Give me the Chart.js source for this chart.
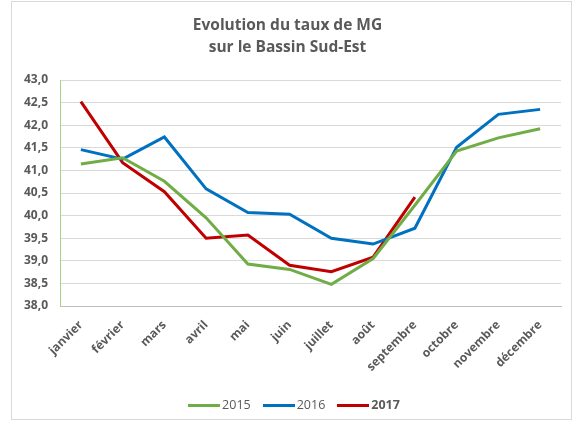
<!DOCTYPE html>
<html><head><meta charset="utf-8">
<script src="https://cdn.jsdelivr.net/npm/chart.js@4/dist/chart.umd.min.js"></script>
<style>
html,body{margin:0;padding:0;background:#fff;}
#wrap{position:relative;width:575px;height:423px;overflow:hidden;}
#frame{position:absolute;left:11px;top:1px;width:561px;height:419px;border:1px solid #d9d9d9;box-sizing:border-box;}
#title{position:absolute;left:0;top:13px;width:575px;text-align:center;font-family:"Open Sans",sans-serif;font-weight:bold;font-size:15.5px;line-height:22px;color:#595959;}
canvas{position:absolute;left:0;top:0;}
#legend{position:absolute;left:0;top:396px;width:588px;text-align:center;font-family:"Open Sans",sans-serif;font-size:12.5px;color:#595959;white-space:nowrap;}
.li{display:inline-block;margin:0 6px;}
.sw{display:inline-block;width:32px;height:3px;vertical-align:middle;margin-right:2px;}
</style></head>
<body><div id="wrap"><div id="frame"></div>
<canvas id="c" width="575" height="423"></canvas>
<div id="title">Evolution du taux de MG<br>sur le Bassin Sud-Est</div>
<div id="legend"></div>
</div>
<script>
const months = ["janvier","février","mars","avril","mai","juin","juillet","août","septembre","octobre","novembre","décembre"];
const y2015 = [41.14,41.28,40.76,39.95,38.93,38.81,38.48,39.05,40.23,41.43,41.72,41.92];
const y2016 = [41.46,41.25,41.74,40.59,40.07,40.03,39.50,39.37,39.72,41.51,42.24,42.35];
const y2017 = [42.52,41.17,40.53,39.50,39.57,38.90,38.76,39.08,40.41,null,null,null];
const seriesNames = ["2015","2016","2017"];
const colors = ["#70ad47","#0070c0","#c00000"];

const legend = document.getElementById('legend');
seriesNames.forEach((n,i)=>{
  const s=document.createElement('span');s.className='li';
  s.innerHTML='<span class="sw" style="background:'+colors[i]+'"></span><span style="'+(i===2?'font-weight:bold;':'')+'">'+n+'</span>';
  legend.appendChild(s);
});

const mk=(label,data,c)=>({label,data,borderColor:c,backgroundColor:c,borderWidth:3,pointRadius:0,tension:0,spanGaps:false});
new Chart(document.getElementById('c'),{
  type:'line',
  data:{labels:months,datasets:[mk(seriesNames[0],y2015,colors[0]),mk(seriesNames[1],y2016,colors[1]),mk(seriesNames[2],y2017,colors[2])]},
  options:{
    responsive:false,animation:false,
    layout:{padding:{left:0,right:14,top:80,bottom:0}},
    plugins:{legend:{display:false},title:{display:false},tooltip:{enabled:false}},
    scales:{
      x:{offset:true,grid:{display:false,drawTicks:false},border:{color:'#bfbfbf',width:1},
         ticks:{minRotation:45,maxRotation:45,padding:12,color:'#595959',font:{family:'"Open Sans", sans-serif',size:12,weight:'bold'}},
         afterFit:s=>{s.height=117;}},
      y:{min:38,max:43,grid:{color:'#d9d9d9',drawTicks:false},border:{color:'#a9d18e',width:1},
         ticks:{stepSize:0.5,padding:12,color:'#595959',font:{family:'"Open Sans", sans-serif',size:12,weight:'bold'},
           callback:v=>v.toFixed(1).replace('.',',')},
         afterFit:s=>{s.width=60;}}
    }
  }
});
</script></body></html>
